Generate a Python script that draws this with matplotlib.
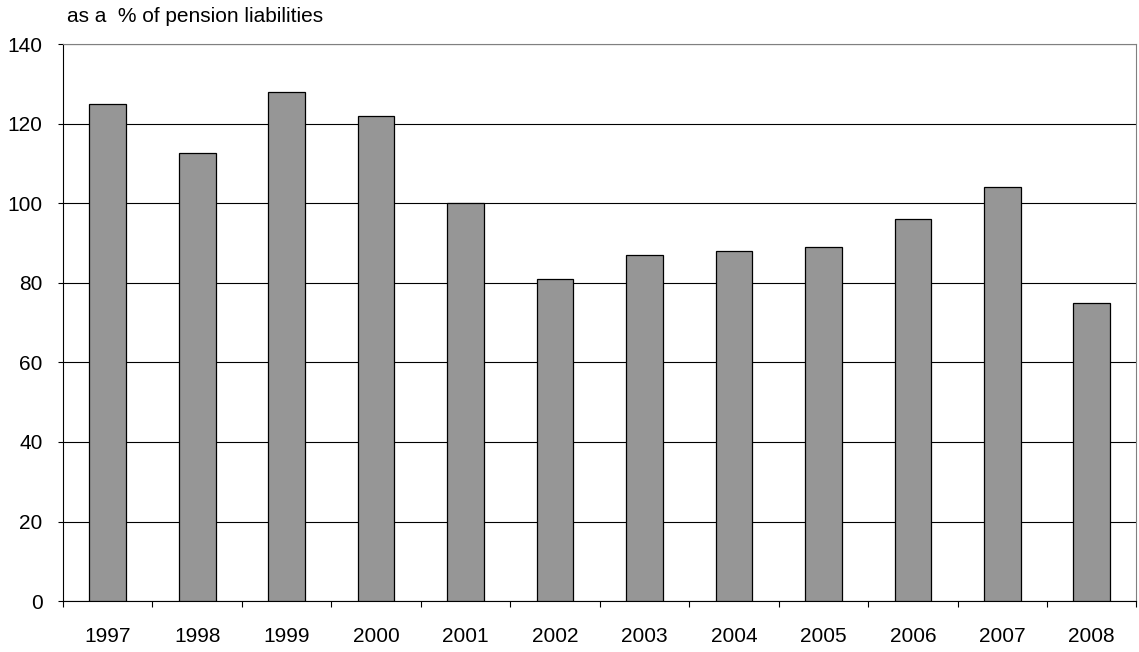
import numpy as np
from matplotlib import pyplot as plt

plt.rcParams['font.family'] = ['Liberation Sans', 'DejaVu Sans']

years = ["1997", "1998", "1999", "2000", "2001", "2002",
         "2003", "2004", "2005", "2006", "2007", "2008"]
funding_ratio = [125, 112.5, 128, 122, 100, 81, 87, 88, 89, 96, 104, 75]
y_ticks = [0, 20, 40, 60, 80, 100, 120, 140]

fig = plt.figure(figsize=(11.39, 6.52), dpi=100)
ax = fig.add_axes([0.0553, 0.078, 0.9425, 0.8545])

x = np.arange(len(years))
ax.bar(x, funding_ratio, width=0.41, color="#969696",
       edgecolor="black", linewidth=0.9, zorder=3)

ax.set_xlim(-0.5, len(years) - 0.5)
ax.set_ylim(0, 140)
ax.set_yticks(y_ticks)
ax.yaxis.grid(True, color="black", linewidth=0.8, zorder=0)

# category labels centred, tick marks on category boundaries
ax.set_xticks(x)
ax.set_xticklabels(years)
ax.tick_params(axis="x", which="major", length=0, pad=18.5, labelsize=15)
ax.set_xticks(np.arange(-0.5, len(years) + 0.5, 1), minor=True)
ax.tick_params(axis="x", which="minor", length=4.5, width=0.8, direction="out")
ax.tick_params(axis="y", length=3.6, width=0.8, direction="out", pad=11,
               labelsize=15)

for side in ("top", "right"):
    ax.spines[side].set_color("#808080")
    ax.spines[side].set_linewidth(0.8)
for side in ("left", "bottom"):
    ax.spines[side].set_color("black")
    ax.spines[side].set_linewidth(0.8)

fig.text(0.059, 0.975, "as a  % of pension liabilities", fontsize=15,
         va="center", ha="left")

fig.savefig("out.png", dpi=100)
